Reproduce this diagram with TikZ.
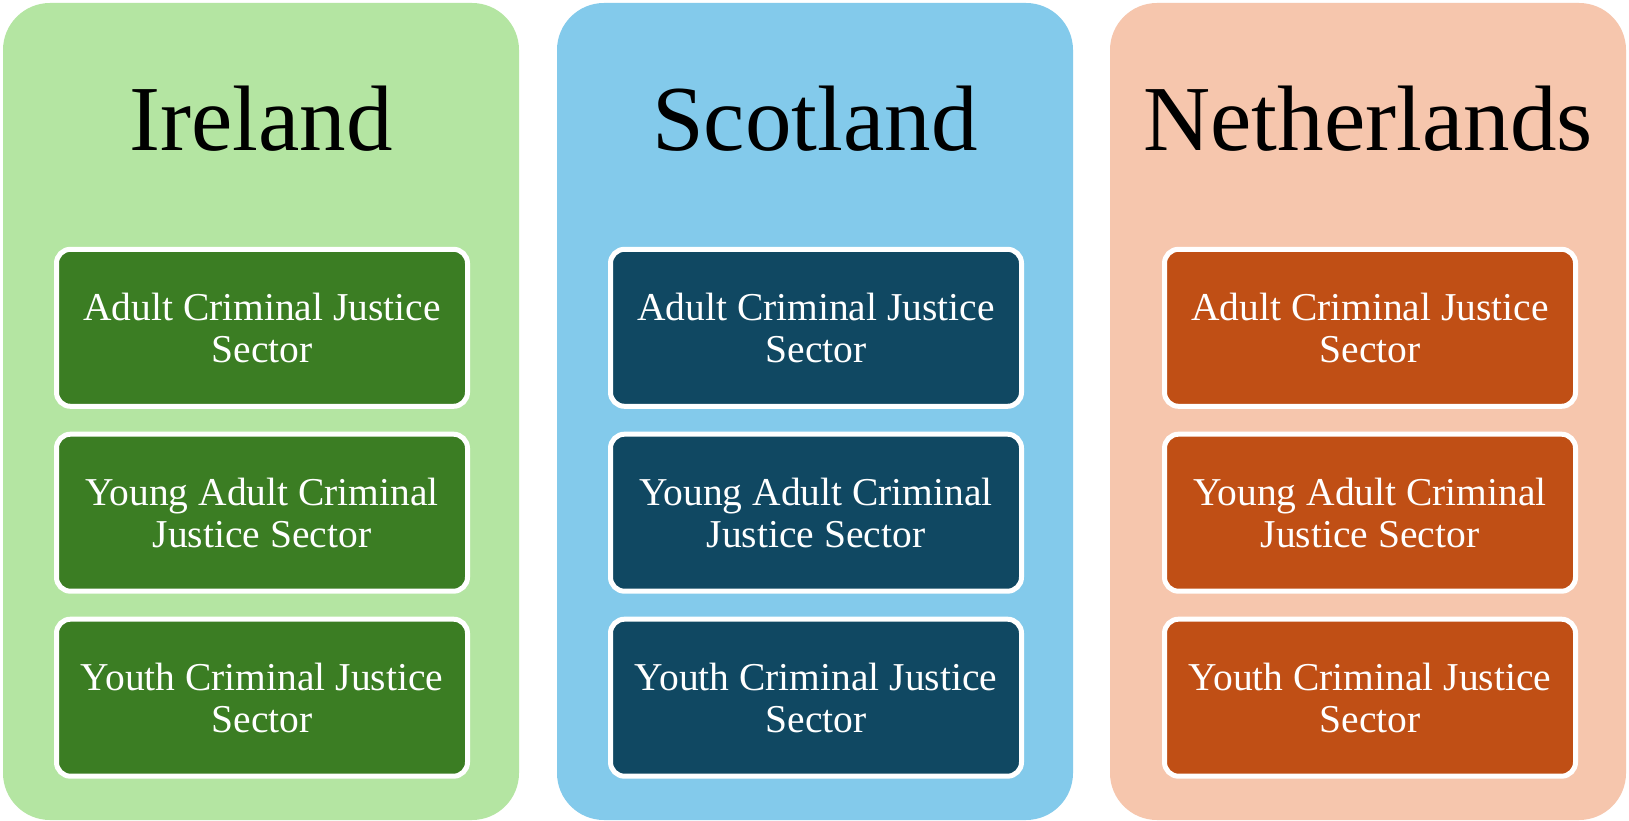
\documentclass[tikz,border=0pt]{standalone}
\usepackage{fontspec}
\setmainfont{Liberation Serif}
\definecolor{irlight}{HTML}{B4E5A2}
\definecolor{irdark}{HTML}{3B7D23}
\definecolor{sclight}{HTML}{83CAEB}
\definecolor{scdark}{HTML}{104862}
\definecolor{nllight}{HTML}{F6C6AD}
\definecolor{nldark}{HTML}{C04F15}
\begin{document}
\begin{tikzpicture}[x=1pt,y=-1pt,
  panel/.style={rectangle, rounded corners=47pt, minimum width=516pt, minimum height=817pt, inner sep=0pt, draw=none},
  title/.style={anchor=base, font=\fontsize{93}{100}\selectfont, text=black, inner sep=0pt},
  sector/.style={rectangle, rounded corners=14pt, draw=white, line width=5pt, minimum width=411pt, minimum height=157pt, inner sep=0pt, align=center, text=white, font=\fontsize{39.5}{42}\selectfont}]
\useasboundingbox (0,0) rectangle (1629,821);
\fill[white] (0,0) rectangle (1629,821);
% panels
\node[panel, fill=irlight] (pI) at (261,411.5) {};
\node[panel, fill=sclight] (pS) at (815,411.5) {};
\node[panel, fill=nllight] (pN) at (1368,411.5) {};
% titles
\node[title] (tI) at (261,151) {Ireland};
\node[title] (tS) at (815,151) {Scotland};
\node[title] (tN) at (1368,151) {Netherlands};
% Ireland boxes
\node[sector, fill=irdark] (iA) at (262,327.8) {Adult Criminal Justice\\Sector};
\node[sector, fill=irdark] (iY) at (262,512.7) {Young Adult Criminal\\Justice Sector};
\node[sector, fill=irdark] (iU) at (262,697.7) {Youth Criminal Justice\\Sector};
% Scotland boxes
\node[sector, fill=scdark] (sA) at (816,327.8) {Adult Criminal Justice\\Sector};
\node[sector, fill=scdark] (sY) at (816,512.7) {Young Adult Criminal\\Justice Sector};
\node[sector, fill=scdark] (sU) at (816,697.7) {Youth Criminal Justice\\Sector};
% Netherlands boxes
\node[sector, fill=nldark] (nA) at (1370,327.8) {Adult Criminal Justice\\Sector};
\node[sector, fill=nldark] (nY) at (1370,512.7) {Young Adult Criminal\\Justice Sector};
\node[sector, fill=nldark] (nU) at (1370,697.7) {Youth Criminal Justice\\Sector};
\end{tikzpicture}
\end{document}
